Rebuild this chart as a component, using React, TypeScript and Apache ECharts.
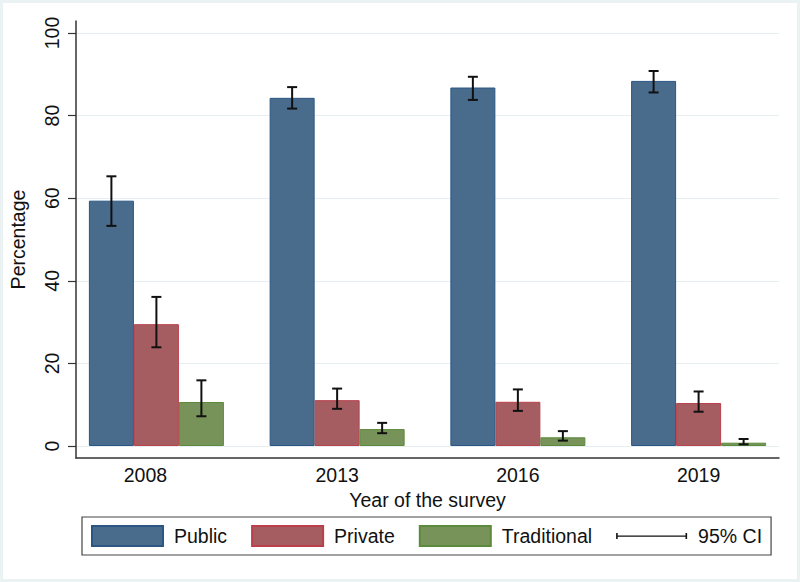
import React, { useEffect, useRef } from "react";
import * as echarts from "echarts";

const years = ["2008", "2013", "2016", "2019"];
const publicVals = [59.4, 84.3, 86.8, 88.4];
const publicLo = [53.3, 81.7, 83.8, 85.6];
const publicHi = [65.3, 86.9, 89.4, 90.8];
const privateVals = [29.5, 11.1, 10.7, 10.4];
const privateLo = [23.9, 9.0, 8.5, 8.3];
const privateHi = [36.1, 13.9, 13.7, 13.2];
const tradVals = [10.65, 4.1, 2.1, 0.8];
const tradLo = [7.2, 3.1, 1.3, 0.4];
const tradHi = [15.9, 5.6, 3.6, 1.7];
const yTicks = [0, 20, 40, 60, 80, 100];

const FONT = 'Arial, "Liberation Sans", Helvetica, sans-serif';
const BAR_W = 45;
const CAP_W = 10;
const FS = 19.5;

export default function App() {
  const ref = useRef<HTMLDivElement>(null);
  useEffect(() => {
    document.body.style.margin = "0";
    if (!ref.current) return;
    const chart = echarts.init(ref.current, undefined, { renderer: "svg" });
    const idx = years.map((_, i) => i);
    const ciData: number[][] = [];
    const groups = [
      [publicLo, publicHi],
      [privateLo, privateHi],
      [tradLo, tradHi],
    ];
    groups.forEach(([lo, hi], g) => {
      idx.forEach((i) => ciData.push([i, g, lo[i], hi[i]]));
    });
    const ciIcon =
      "path://M0,0h0.05v0.05h-0.05Z M0,7h1.6v6h-1.6Z M0,9.4h71v1.3h-71Z M69.4,7h1.6v6h-1.6Z M70.95,19.95h0.05v0.05h-0.05Z";
    const option: any = {
      animation: false,
      textStyle: { fontFamily: FONT },
      grid: { left: 75, right: 21, top: 21, bottom: 124, containLabel: false },
      xAxis: {
        type: "value",
        min: -0.4448,
        max: 3.4448,
        name: "Year of the survey",
        nameLocation: "middle",
        nameGap: 27,
        nameTextStyle: { fontSize: FS, color: "#111", fontFamily: FONT },
        axisLine: { show: true, onZero: false, lineStyle: { color: "#333", width: 1.5 } },
        axisTick: { show: false },
        splitLine: { show: false },
        axisLabel: {
          customValues: idx,
          fontSize: FS,
          color: "#111",
          fontFamily: FONT,
          margin: 7,
          formatter: (v: number) => {
            const i = Math.round(v);
            return i === 0 ? "{a|" + years[i] + "}" : years[i];
          },
          rich: { a: { fontSize: FS, color: "#111", fontFamily: FONT, padding: [0, 22, 0, 0] } },
        },
      },
      yAxis: {
        type: "value",
        min: -2.906,
        max: 102.906,
        name: "Percentage",
        nameLocation: "middle",
        nameGap: 48,
        nameRotate: 90,
        nameTextStyle: { fontSize: FS, color: "#111", fontFamily: FONT },
        axisLine: { show: true, onZero: false, lineStyle: { color: "#333", width: 1.5 } },
        axisTick: { show: true, length: 8, customValues: yTicks, lineStyle: { color: "#333", width: 1.2 } },
        axisLabel: {
          customValues: yTicks,
          rotate: 90,
          fontSize: FS,
          color: "#111",
          fontFamily: FONT,
          margin: 14,
        },
        splitLine: { show: true, lineStyle: { color: "#e6eef2", width: 1.2 } },
      },
      legend: {
        left: 82,
        top: 517,
        orient: "horizontal",
        padding: [8, 9, 8, 9],
        itemGap: 24,
        itemWidth: 71,
        itemHeight: 20,
        borderColor: "#444",
        borderWidth: 1.2,
        selectedMode: false,
        textStyle: { fontSize: FS, color: "#111", fontFamily: FONT, padding: [0, 0, 0, 6] },
        data: [
          { name: "Public", icon: "rect" },
          { name: "Private", icon: "rect" },
          { name: "Traditional", icon: "rect" },
          { name: "95% CI", icon: ciIcon, itemStyle: { color: "#111", borderWidth: 0 } },
        ],
      },
      series: [
        {
          name: "Public",
          type: "bar",
          barWidth: BAR_W,
          barGap: "0%",
          itemStyle: { color: "#496b8c", borderColor: "#2a5684", borderWidth: 1 },
          data: idx.map((i) => [i, publicVals[i]]),
        },
        {
          name: "Private",
          type: "bar",
          barWidth: BAR_W,
          barGap: "0%",
          itemStyle: { color: "#a65d61", borderColor: "#b8404c", borderWidth: 1 },
          data: idx.map((i) => [i, privateVals[i]]),
        },
        {
          name: "Traditional",
          type: "bar",
          barWidth: BAR_W,
          barGap: "0%",
          itemStyle: { color: "#77935a", borderColor: "#5c8a3c", borderWidth: 1 },
          data: idx.map((i) => [i, tradVals[i]]),
        },
        {
          name: "95% CI",
          type: "custom",
          itemStyle: { color: "#111" },
          encode: { x: 0, y: [2, 3] },
          data: ciData,
          z: 5,
          renderItem: (params: any, api: any) => {
            const x = api.value(0);
            const g = api.value(1);
            const lo = api.value(2);
            const hi = api.value(3);
            const pLo = api.coord([x, lo]);
            const pHi = api.coord([x, hi]);
            const cx = pLo[0] + (g - 1) * BAR_W;
            const h = CAP_W / 2;
            const style = { stroke: "#111", lineWidth: 2, fill: null };
            return {
              type: "group",
              children: [
                { type: "line", shape: { x1: cx, y1: pHi[1], x2: cx, y2: pLo[1] }, style },
                { type: "line", shape: { x1: cx - h, y1: pHi[1], x2: cx + h, y2: pHi[1] }, style },
                { type: "line", shape: { x1: cx - h, y1: pLo[1], x2: cx + h, y2: pLo[1] }, style },
              ],
            };
          },
        },
      ],
    };
    chart.setOption(option);
    return () => chart.dispose();
  }, []);
  return (
    <div
      ref={ref}
      style={{
        width: 800,
        height: 582,
        background: "#ffffff",
        boxShadow: "inset 0 0 0 3px #eaf2f3",
      }}
    />
  );
}
